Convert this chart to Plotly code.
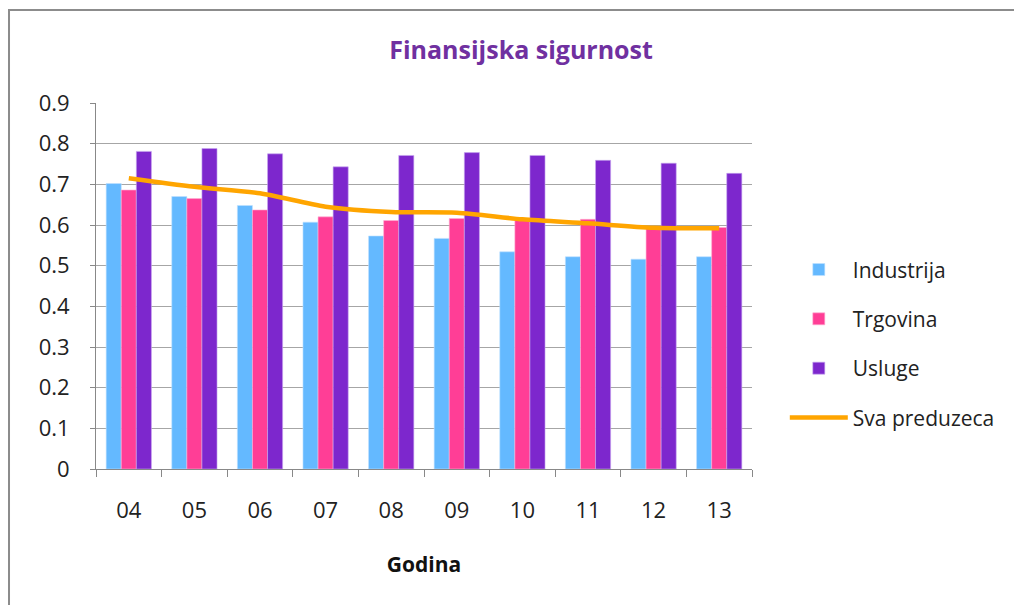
import plotly.graph_objects as go

# godine (kategorije na x osi)
godine = ["04", "05", "06", "07", "08", "09", "10", "11", "12", "13"]

industrija = [0.702, 0.670, 0.648, 0.607, 0.573, 0.567, 0.534, 0.522, 0.516, 0.522]
trgovina = [0.686, 0.665, 0.637, 0.620, 0.611, 0.616, 0.612, 0.614, 0.596, 0.594]
usluge = [0.781, 0.788, 0.775, 0.743, 0.771, 0.778, 0.771, 0.759, 0.752, 0.727]
sva_preduzeca = [0.715, 0.694, 0.678, 0.645, 0.632, 0.630, 0.614, 0.604, 0.593, 0.592]

font_name = "'Open Sans', Lato, sans-serif"

fig = go.Figure()
fig.add_trace(go.Bar(x=godine, y=industrija, name="Industrija", legendgroup="a",
                     marker=dict(color="#64B9FF", line=dict(color="#BFE0FF", width=0.6))))
fig.add_trace(go.Bar(x=godine, y=trgovina, name="Trgovina", legendgroup="b",
                     marker=dict(color="#FF3E96", line=dict(color="#FFB0D4", width=0.6))))
fig.add_trace(go.Bar(x=godine, y=usluge, name="Usluge", legendgroup="c",
                     marker=dict(color="#7D27CD", line=dict(color="#C8A8F0", width=0.6))))
fig.add_trace(go.Scatter(x=godine, y=sva_preduzeca, name="Sva preduzeca", legendgroup="d",
                         mode="lines", line=dict(color="#FFA500", width=4.5, shape="spline", smoothing=0.8)))

# stranica ima 8px margine, pa su margine pomjerene
fig.update_layout(
    width=1022, height=605,
    margin=dict(l=88, r=278, t=95, b=144),
    paper_bgcolor="white", plot_bgcolor="white",
    font=dict(family=font_name, size=22, color="#222222"),
    title=dict(text="<b>Finansijska sigurnost</b>", x=0.502, xanchor="center",
               y=0.93, yanchor="middle",
               font=dict(family=font_name, size=25, color="#7030A0")),
    barmode="group", bargap=0.31, bargroupgap=0,
    showlegend=True,
    legend=dict(x=1.05, y=0.60, xanchor="left", yanchor="top",
                font=dict(family=font_name, size=21, color="#222222"),
                itemwidth=58, tracegroupgap=19, bgcolor="rgba(0,0,0,0)"),
    xaxis=dict(
        type="category", showgrid=False, showline=True, linecolor="#888888", linewidth=1,
        ticks="outside", tickson="boundaries", ticklen=7, tickcolor="#888888",
        ticklabelstandoff=22,
        title=dict(text="<b>Godina</b>", standoff=33, font=dict(size=21, color="#111111")),
    ),
    yaxis=dict(
        range=[0, 0.9], dtick=0.1, tickformat=".1~f",
        showgrid=True, gridcolor="#A6A6A6", gridwidth=1,
        showline=True, linecolor="#888888", linewidth=1,
        ticks="outside", ticklen=5, tickcolor="#888888",
        ticklabelstandoff=16, zeroline=False,
    ),
    shapes=[dict(type="rect", xref="paper", yref="paper",
                 x0=-0.1326, x1=1.45, y0=-0.45, y1=1.254,
                 line=dict(color="#8C8C8C", width=2), layer="below")],
)

fig.write_html("out.html")
